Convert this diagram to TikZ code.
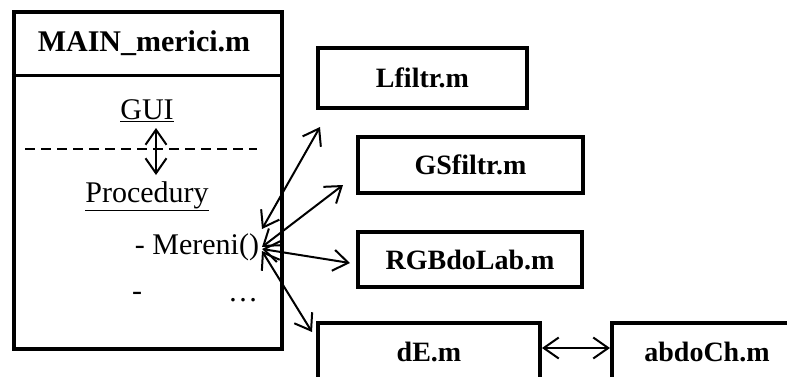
\documentclass[tikz,border=0pt]{standalone}
\usepackage{fontspec}
\setmainfont{Liberation Serif}
\usetikzlibrary{arrows.meta}
\begin{document}
\begin{tikzpicture}[x=1pt,y=-1pt,
  >={Straight Barb[length=15pt,width=21pt]},
  filebox/.style={draw, line width=4pt, inner sep=0pt,
    font=\bfseries\fontsize{28}{32}\selectfont},
  conn/.style={line width=2pt, <->},
  plain/.style={inner sep=0pt, font=\fontsize{30}{34}\selectfont}]
\useasboundingbox (0,0) rectangle (787,376);
\clip (0,0) rectangle (787,376);
% main box
\node[draw, line width=4.5pt, minimum width=268pt, minimum height=337pt, inner sep=0pt] (main) at (148,180.5) {};
\node[inner sep=0pt, font=\bfseries\fontsize{30}{34}\selectfont] (title) at (144,43) {MAIN\_merici.m};
\draw[line width=3pt] (main.west |- 0,75) -- (main.east |- 0,75);
\node[plain] (gui) at (147,111) {\underline{GUI}};
\draw[line width=2pt, dash pattern=on 10pt off 6pt] (25,149) -- (257,149);
\node[plain] (proc) at (147,196) {\underline{Procedury}};
\coordinate (g1) at (156,128);
\coordinate (g2) at (156,175);
\draw[conn] (g1) -- (g2);
\node[plain] (mereni) at (197,247) {- Mereni()};
\node[plain] (dash) at (137,296) {-};
\node[plain] (dots) at (243,300) {…};
% file boxes
\node[filebox, minimum width=209pt, minimum height=60pt] (lf) at (422.5,78) {Lfiltr.m};
\node[filebox, minimum width=225pt, minimum height=56pt] (gs) at (470.5,165) {GSfiltr.m};
\node[filebox, minimum width=224pt, minimum height=55pt] (rgb) at (470,259.5) {RGBdoLab.m};
\node[filebox, minimum width=222pt, minimum height=58pt] (de) at (429,352) {dE.m};
\node[filebox, minimum width=190pt, minimum height=58pt] (ab) at (707,352) {abdoCh.m};
% connectors
\coordinate (m1) at (262,229);
\coordinate (m2) at (262,247);
\coordinate (m3) at (262,249);
\coordinate (m4) at (262,251);
\coordinate (t1) at (320,127);
\coordinate (t2) at (343,185);
\coordinate (t3) at (350,263);
\coordinate (t4) at (312,332);
\draw[conn] (m1) -- (t1);
\draw[conn] (m2) -- (t2);
\draw[conn] (m3) -- (t3);
\draw[conn] (m4) -- (t4);
\draw[conn] (de.east |- 0,348) -- (ab.west |- 0,348);
\end{tikzpicture}
\end{document}
